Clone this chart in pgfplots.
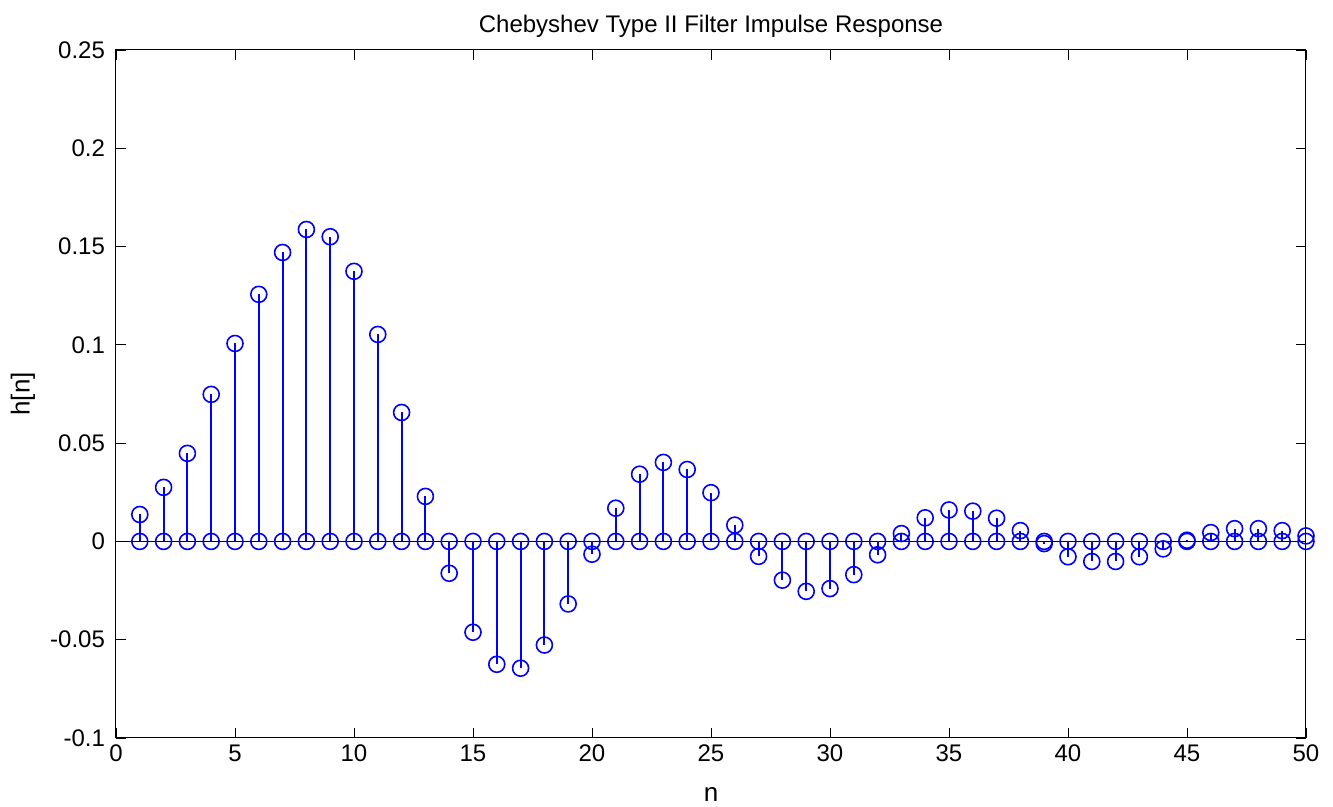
\documentclass[border=0pt]{standalone}
\usepackage{fontspec}
\setmainfont{Liberation Sans}
\usepackage{pgfplots}
\pgfplotsset{compat=1.18}
\usepackage{pgfplotstable}
\pgfplotstableread{
n h
1 0.0137
2 0.0275
3 0.0448
4 0.0748
5 0.1007
6 0.1257
7 0.1470
8 0.1587
9 0.1550
10 0.1374
11 0.1053
12 0.0656
13 0.0229
14 -0.0162
15 -0.0462
16 -0.0625
17 -0.0645
18 -0.0527
19 -0.0318
20 -0.0065
21 0.0169
22 0.0342
23 0.0402
24 0.0366
25 0.0248
26 0.0083
27 -0.0076
28 -0.0197
29 -0.0254
30 -0.0240
31 -0.0169
32 -0.0068
33 0.0040
34 0.0120
35 0.0160
36 0.0154
37 0.0118
38 0.0055
39 -0.0011
40 -0.0078
41 -0.0102
42 -0.0102
43 -0.0078
44 -0.0038
45 0.0006
46 0.0045
47 0.0065
48 0.0065
49 0.0055
50 0.0028
}\hdata
\pgfplotstableread{
n z
1 0
2 0
3 0
4 0
5 0
6 0
7 0
8 0
9 0
10 0
11 0
12 0
13 0
14 0
15 0
16 0
17 0
18 0
19 0
20 0
21 0
22 0
23 0
24 0
25 0
26 0
27 0
28 0
29 0
30 0
31 0
32 0
33 0
34 0
35 0
36 0
37 0
38 0
39 0
40 0
41 0
42 0
43 0
44 0
45 0
46 0
47 0
48 0
49 0
50 0
}\zdata
\definecolor{mblue}{RGB}{0,0,255}
\begin{document}
\begin{tikzpicture}
\useasboundingbox (-58pt,-34.5pt) rectangle (608.5pt,369pt);
\begin{axis}[
  at={(0,0)}, anchor=south west,
  scale only axis,
  width=595pt, height=344pt,
  xmin=0, xmax=50, ymin=-0.1, ymax=0.25,
  xtick={0,5,...,50},
  ytick={-0.1,-0.05,0,0.05,0.1,0.15,0.2,0.25},
  yticklabels={-0.1,-0.05,0,0.05,0.1,0.15,0.2,0.25},
  tick align=inside,
  major tick length=5pt,
  tick style={black, line width=0.4pt},
  /pgf/number format/assume math mode=true,
  tick label style={font=\fontsize{12}{14}\selectfont},
  yticklabel style={xshift=-2pt},
  title={Chebyshev Type II Filter Impulse Response},
  title style={font=\fontsize{12}{14}\selectfont, at={(0.5,1)}, anchor=center, yshift=6pt},
  xlabel={n},
  ylabel={h[n]},
  label style={font=\fontsize{13}{15}\selectfont},
  xlabel style={at={(0.5,0)}, anchor=center, yshift=-28.5pt},
  ylabel style={at={(0,0.5)}, anchor=center, yshift=46.5pt},
  axis line style={black, line width=0.5pt},
]
\addplot[black, line width=0.75pt, forget plot] coordinates {(0,0) (50,0)};
\addplot[mblue, ycomb, line width=1pt, mark=o, mark size=4pt, mark options={line width=0.8pt}] table[x=n, y=h] {\hdata};
\addplot[mblue, only marks, mark=o, mark size=4pt, mark options={line width=0.8pt}] table[x=n, y=z] {\zdata};
\end{axis}
\end{tikzpicture}
\end{document}
